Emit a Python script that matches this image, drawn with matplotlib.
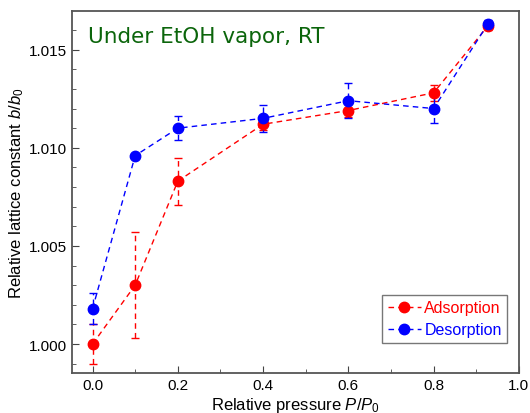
import matplotlib
matplotlib.use('Agg')
import matplotlib.pyplot as plt
import numpy as np

plt.rcParams['font.family'] = ['Liberation Sans', 'DejaVu Sans']
plt.rcParams['mathtext.fontset'] = 'custom'
plt.rcParams['mathtext.it'] = 'Liberation Sans:italic'
plt.rcParams['mathtext.rm'] = 'Liberation Sans'

# relative pressure P/P0
pressure = [0.0, 0.1, 0.2, 0.4, 0.6, 0.8, 0.927]

# adsorption branch
ads_b = [1.0000, 1.0030, 1.0083, 1.0112, 1.0119, 1.0128, 1.0162]
ads_err = [0.0010, 0.0027, 0.0012, 0.0003, 0.00035, 0.0004, 0.0002]

# desorption branch
des_b = [1.0018, 1.0096, 1.0110, 1.0115, 1.0124, 1.0120, 1.0163]
des_err = [0.0008, 0.0001, 0.0006, 0.0007, 0.0009, 0.00075, 0.0002]

fig = plt.figure(figsize=(5.3, 4.14), dpi=100)
ax = fig.add_axes([0.136, 0.0966, 0.843, 0.8744])


def draw(y, err, col, lab):
    line, caps, bars = ax.errorbar(pressure, y, yerr=err, color=col, ls='--', lw=1.0,
                                   marker='o', ms=7.5, capsize=3, capthick=1.0,
                                   elinewidth=1.0, label=lab, dashes=(4, 3))
    bars[0].set_linestyle((0, (4, 3)))
    return line


l1 = draw(ads_b, ads_err, '#ff0000', 'Adsorption')
l2 = draw(des_b, des_err, '#0000ff', 'Desorption')

ax.set_xlim(-0.048, 1.0)
ax.set_ylim(0.998525, 1.01697)
ax.set_xticks([0.0, 0.2, 0.4, 0.6, 0.8, 1.0])
ax.set_xticks(np.arange(0.1, 1.0, 0.2), minor=True)
ax.set_yticks([1.000, 1.005, 1.010, 1.015])
ax.set_yticklabels(['1.000', '1.005', '1.010', '1.015'])
ax.set_yticks(np.arange(0.999, 1.0170, 0.001), minor=True)
ax.tick_params(axis='both', which='both', direction='in', labelsize=11, color='#444444')
ax.tick_params(which='major', length=5)
ax.tick_params(which='minor', length=3)
for s in ax.spines.values():
    s.set_color('#555555')
    s.set_linewidth(1.3)

ax.set_xlabel('Relative pressure $P$/$P_0$', fontsize=12, labelpad=2)
ax.set_ylabel('Relative lattice constant $b$/$b_0$', fontsize=12, labelpad=2)

ax.text(0.035, 0.958, 'Under EtOH vapor, RT', transform=ax.transAxes, color='#0b650b',
        fontsize=15.5, family='DejaVu Sans', va='top', ha='left')

leg = ax.legend(handles=[l1, l2], labels=['Adsorption', 'Desorption'],
                loc='lower right', bbox_to_anchor=(0.985, 0.07), fontsize=11.5,
                frameon=True, fancybox=False, handlelength=2.1, handletextpad=0.2,
                borderpad=0.35, labelspacing=0.45, borderaxespad=0.3)
leg.get_frame().set_edgecolor('#555555')
leg.get_frame().set_linewidth(1.0)
for t, c in zip(leg.get_texts(), ['#ff0000', '#0000ff']):
    t.set_color(c)

fig.savefig('out.png', dpi=100)
